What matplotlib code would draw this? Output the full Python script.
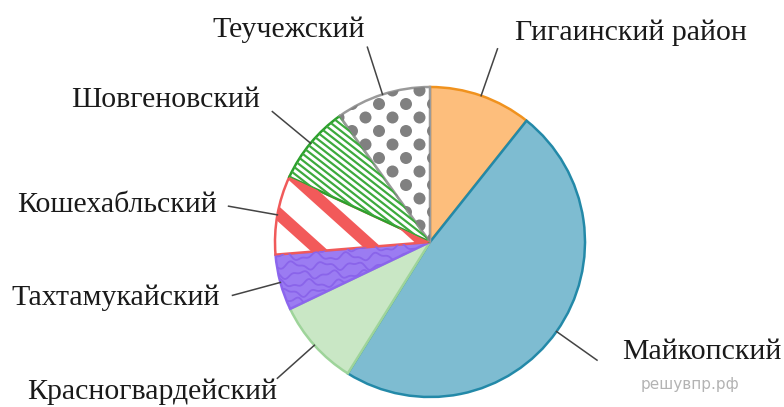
import numpy as np
import matplotlib.pyplot as plt
from matplotlib.patches import Circle
from matplotlib.collections import PatchCollection, LineCollection

# data
districts = ['Гигаинский район', 'Майкопский', 'Красногвардейский', 'Тахтамукайский',
             'Кошехабльский', 'Шовгеновский', 'Теучежский']
shares = [10.7, 48.2, 9.0, 5.8, 8.2, 8.2, 9.9]

face_colors = ['#FDBE7C', '#7EBCD1', '#C9E7C5', '#9B7CF2', 'white', 'white', 'white']
edge_colors = ['#F0921E', '#2389A8', '#9ED49A', '#8C66EE', '#F05A5A', '#2CA02C', '#9A9A9A']

# label anchors in pixels (layout only)
label_pos = [(515, 33, 'left'), (622, 352, 'left'), (277, 392, 'right'), (220, 298, 'right'),
             (217, 205, 'right'), (260, 100, 'right'), (365, 30, 'right')]

W, H = 784, 407
cx, cy, R = 430, 242, 155.0

fig = plt.figure(figsize=(W / 100, H / 100), dpi=100)
ax = fig.add_axes([0, 0, 1, 1])

wedges, _ = ax.pie(shares, startangle=90, counterclock=False, radius=1,
                   colors=face_colors, wedgeprops=dict(linewidth=1.8))
for w, ec in zip(wedges, edge_colors):
    w.set_edgecolor(ec)

ax.set_xlim(-cx / R, (W - cx) / R)
ax.set_ylim(-(H - cy) / R, cy / R)
ax.axis('off')

u = 1 / R  # one pixel in data units


def stripes(wedge, angle, spacing, width, color):
    th = np.radians(angle)
    d = np.array([np.cos(th), -np.sin(th)])
    n = np.array([np.sin(th), np.cos(th)])
    segs = []
    for k in np.arange(-1.5, 1.5, spacing * u):
        p = n * k
        segs.append([p - 2 * d, p + 2 * d])
    lc = LineCollection(segs, colors=color, linewidths=width * 0.72, zorder=wedge.zorder + 0.1)
    ax.add_collection(lc)
    lc.set_clip_path(wedge)


# Кошехабльский: thick red stripes
stripes(wedges[4], 42, 38, 12, '#F25A5A')
# Шовгеновский: thin green stripes
stripes(wedges[5], 38, 5.2, 2.2, '#3DAA3D')

# Теучежский: grey dots
dots = []
for j, yy in enumerate(np.arange(-1.2, 1.2, 13.5 * u)):
    off = 0 if j % 2 == 0 else 13.5 * u
    for xx in np.arange(-1.2, 1.2, 27 * u):
        dots.append(Circle((xx + off, yy), 6 * u))
pc = PatchCollection(dots, facecolor='#808080', edgecolor='none', zorder=wedges[6].zorder + 0.1)
ax.add_collection(pc)
pc.set_clip_path(wedges[6])

# Тахтамукайский: wavy pattern
xs = np.linspace(-1.2, 0, 400)
waves = []
for k, yy in enumerate(np.arange(-0.5, 0.5, 9 * u)):
    ys = yy + 3 * u * np.sin(xs / (5 * u) + k * 1.7) + 1.5 * u * np.sin(xs / (2.3 * u) + k)
    waves.append(np.column_stack([xs, ys]))
lc = LineCollection(waves, colors='#8A64EA', linewidths=1.3, zorder=wedges[3].zorder + 0.1)
ax.add_collection(lc)
lc.set_clip_path(wedges[3])

# leader lines and labels
start = 0
for name, s, (lx, ly, ha) in zip(districts, shares, label_pos):
    mid = np.radians(90 - (start + s / 2) * 3.6)
    start += s
    ax.plot([np.cos(mid), 1.32 * np.cos(mid)], [np.sin(mid), 1.32 * np.sin(mid)],
            color='#444444', lw=1.1)
    ax.text((lx - cx) / R, (cy - ly) / R, name, ha=ha, va='center',
            fontsize=21.5, family='Liberation Serif', color='#1a1a1a')

ax.text((690 - cx) / R, (cy - 385) / R, 'решувпр.рф', ha='center', va='center',
        fontsize=11, color='#b3b3b3')

fig.savefig('out.png', dpi=100)
